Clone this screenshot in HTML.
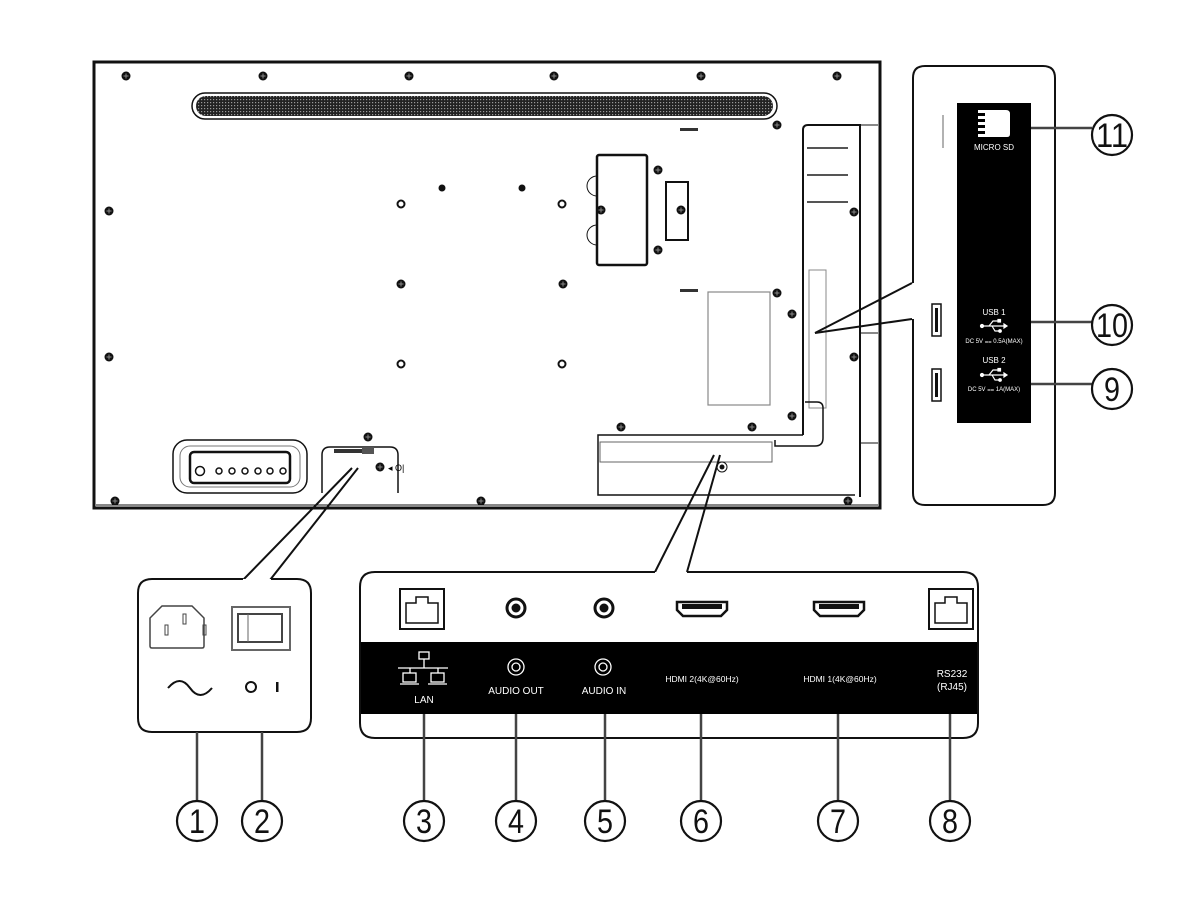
<!DOCTYPE html>
<html><head><meta charset="utf-8"><style>
html,body{margin:0;padding:0;background:#fff}
svg{display:block}
text{font-family:"Liberation Sans",sans-serif}
</style></head><body>
<svg width="1200" height="900" viewBox="0 0 1200 900" xmlns="http://www.w3.org/2000/svg">
<defs>
<g id="scr"><circle r="4.5" fill="#111"/><path d="M-2.5 0H2.5M0 -2.5V2.5" stroke="#888" stroke-width="1"/></g>
<pattern id="grill" width="3" height="3" patternUnits="userSpaceOnUse"><rect width="3" height="3" fill="#222"/><rect width="1.2" height="1.2" fill="#999"/></pattern>
<g id="usb" fill="none" stroke="#fff" stroke-width="1.2"><path d="M-11 0H11M-4 0L0-5H5M-1 0L2 5H6"/><circle cx="-11" cy="0" r="1.5" fill="#fff"/><path d="M11-2L14 0L11 2z" fill="#fff"/><rect x="5" y="-6.5" width="2.5" height="2.5" fill="#fff"/><circle cx="7" cy="5" r="1.3" fill="#fff"/></g>
</defs>
<!-- main body -->
<rect x="94" y="62" width="786" height="446" fill="#fff" stroke="#111" stroke-width="3"/>
<line x1="96" y1="505" x2="878" y2="505" stroke="#111" stroke-width="1"/>
<rect x="192" y="93" width="585" height="26" rx="13" fill="#fff" stroke="#111" stroke-width="1.5"/>
<rect x="196" y="96" width="577" height="20" rx="10" fill="url(#grill)"/>
<!-- screws -->
<use href="#scr" x="126" y="76"/><use href="#scr" x="263" y="76"/><use href="#scr" x="409" y="76"/>
<use href="#scr" x="554" y="76"/><use href="#scr" x="701" y="76"/><use href="#scr" x="837" y="76"/>
<use href="#scr" x="109" y="211"/><use href="#scr" x="109" y="357"/><use href="#scr" x="854" y="212"/><use href="#scr" x="854" y="357"/>
<use href="#scr" x="115" y="501"/><use href="#scr" x="481" y="501"/><use href="#scr" x="848" y="501"/>
<use href="#scr" x="401" y="284"/><use href="#scr" x="563" y="284"/>
<use href="#scr" x="368" y="437"/><use href="#scr" x="621" y="427"/><use href="#scr" x="752" y="427"/>
<use href="#scr" x="792" y="314"/><use href="#scr" x="792" y="416"/><use href="#scr" x="777" y="125"/><use href="#scr" x="777" y="293"/>
<circle cx="442" cy="188" r="3.5" fill="#111"/><circle cx="522" cy="188" r="3.5" fill="#111"/>
<g fill="none" stroke="#111" stroke-width="2"><circle cx="401" cy="204" r="3.5"/><circle cx="562" cy="204" r="3.5"/><circle cx="401" cy="364" r="3.5"/><circle cx="562" cy="364" r="3.5"/></g>
<rect x="680" y="128" width="18" height="3" fill="#333"/><rect x="680" y="289" width="18" height="3" fill="#333"/>
<!-- boxes -->
<rect x="597" y="155" width="50" height="110" rx="2" fill="none" stroke="#111" stroke-width="2.5"/>
<path d="M597 176a10 10 0 0 0 0 20M597 225a10 10 0 0 0 0 20" fill="none" stroke="#111"/>
<use href="#scr" x="601" y="210"/><use href="#scr" x="658" y="170"/><use href="#scr" x="658" y="250"/>
<rect x="666" y="182" width="22" height="58" fill="none" stroke="#111" stroke-width="2"/>
<use href="#scr" x="681" y="210"/>
<rect x="708" y="292" width="62" height="113" fill="none" stroke="#888" stroke-width="1.2"/>
<!-- right channel -->
<path d="M803 435V130q0-5 5-5h52V497" fill="none" stroke="#111" stroke-width="2"/>
<path d="M860 125h18M860 333h18M860 443h18" stroke="#111" fill="none"/>
<g stroke="#555" stroke-width="2"><line x1="807" y1="148" x2="848" y2="148"/><line x1="807" y1="175" x2="848" y2="175"/><line x1="807" y1="202" x2="848" y2="202"/></g>
<rect x="809" y="270" width="17" height="138" fill="none" stroke="#888"/>
<path d="M803 435H598v60h257" fill="none" stroke="#111" stroke-width="1.5"/>
<path d="M805 402h12q6 0 6 6v30q0 8-8 8h-40V440" fill="none" stroke="#111" stroke-width="1.5"/>
<rect x="600" y="442" width="172" height="20" fill="none" stroke="#666"/>
<circle cx="722" cy="467" r="5" fill="none" stroke="#111"/><circle cx="722" cy="467" r="2.5" fill="#111"/>
<!-- keypad -->
<rect x="173" y="440" width="134" height="53" rx="14" fill="none" stroke="#111" stroke-width="1.5"/>
<rect x="180" y="446" width="120" height="41" rx="10" fill="none" stroke="#777"/>
<rect x="190" y="452" width="100" height="31" rx="4" fill="none" stroke="#111" stroke-width="2.5"/>
<circle cx="200" cy="471" r="4.5" fill="none" stroke="#111" stroke-width="1.5"/>
<g fill="none" stroke="#111" stroke-width="1.5"><circle cx="219" cy="471" r="3"/><circle cx="232" cy="471" r="3"/><circle cx="245" cy="471" r="3"/><circle cx="258" cy="471" r="3"/><circle cx="270" cy="471" r="3"/><circle cx="283" cy="471" r="3"/></g>
<!-- power box on body -->
<path d="M322 493V455q0-8 8-8h60q8 0 8 8v38" fill="none" stroke="#111" stroke-width="1.5"/>
<rect x="334" y="449" width="28" height="4" fill="#333"/><rect x="362" y="447" width="12" height="7" fill="#555"/>
<use href="#scr" x="380" y="467"/><text x="388" y="471" font-size="9">◂ O|</text>
<!-- pointer lines -->
<g stroke="#111" stroke-width="2" fill="none">
<line x1="243" y1="580" x2="352" y2="468"/><line x1="270" y1="580" x2="358" y2="468"/>
<line x1="655" y1="572" x2="714" y2="455"/><line x1="687" y1="572" x2="720" y2="455"/>
<line x1="912" y1="283" x2="815" y2="333"/><line x1="912" y1="319" x2="815" y2="333"/>
</g>
<!-- right side panel -->
<path d="M913 283V78q0-12 12-12h118q12 0 12 12v415q0 12-12 12H925q-12 0-12-12V319" fill="#fff" stroke="#111" stroke-width="2"/>
<rect x="957" y="103" width="74" height="320" fill="#000"/>
<line x1="943" y1="115" x2="943" y2="148" stroke="#999" stroke-width="1.5"/>
<path d="M978 110h28q4 0 4 4v20q0 3-3 3h-29z" fill="#fff"/>
<g fill="#000"><rect x="978" y="113" width="7" height="3"/><rect x="978" y="119" width="7" height="3"/><rect x="978" y="125" width="7" height="3"/><rect x="978" y="131" width="7" height="3"/></g>
<text x="994" y="150" font-size="8" fill="#fff" text-anchor="middle">MICRO SD</text>
<text x="994" y="315" font-size="8" fill="#fff" text-anchor="middle">USB 1</text>
<use href="#usb" x="993" y="326"/>
<text x="994" y="343" font-size="6" fill="#fff" text-anchor="middle">DC 5V ⩵ 0.5A(MAX)</text>
<text x="994" y="363" font-size="8" fill="#fff" text-anchor="middle">USB 2</text>
<use href="#usb" x="993" y="375"/>
<text x="994" y="391" font-size="6" fill="#fff" text-anchor="middle">DC 5V ⩵ 1A(MAX)</text>
<rect x="932" y="304" width="9" height="32" fill="none" stroke="#111" stroke-width="1.5"/><rect x="935" y="308" width="3" height="24" fill="#111"/>
<rect x="932" y="369" width="9" height="32" fill="none" stroke="#111" stroke-width="1.5"/><rect x="935" y="373" width="3" height="24" fill="#111"/>
<!-- power panel -->
<path d="M243 579H152q-14 0-14 14v125q0 14 14 14h145q14 0 14-14V593q0-14-14-14h-26" fill="#fff" stroke="#111" stroke-width="2"/>
<path d="M162 606h30l12 12v28q0 2-2 2h-50q-2 0-2-2v-28z" fill="none" stroke="#444" stroke-width="1.5"/>
<rect x="165" y="625" width="3" height="10" fill="none" stroke="#444"/><rect x="183" y="614" width="3" height="10" fill="none" stroke="#444"/><rect x="203" y="625" width="3" height="10" fill="none" stroke="#444"/>
<rect x="232" y="607" width="58" height="43" fill="none" stroke="#666" stroke-width="2"/>
<rect x="238" y="614" width="44" height="28" fill="none" stroke="#444" stroke-width="2"/>
<line x1="248" y1="614" x2="248" y2="642" stroke="#666"/>
<path d="M168 688q12-14 22 0t22 0" fill="none" stroke="#111" stroke-width="2"/>
<circle cx="251" cy="687" r="5" fill="none" stroke="#111" stroke-width="2"/><rect x="276" y="682" width="2.5" height="10" fill="#111"/>
<!-- connector panel -->
<path d="M655 572H375q-15 0-15 15v136q0 15 15 15h588q15 0 15-15V587q0-15-15-15H687" fill="#fff" stroke="#111" stroke-width="2"/>
<rect x="361" y="642" width="616" height="72" fill="#000"/>
<rect x="400" y="589" width="44" height="40" fill="none" stroke="#111" stroke-width="2"/>
<path d="M406 623v-20h10v-6h12v6h10v20z" fill="none" stroke="#111" stroke-width="1.5"/>
<rect x="929" y="589" width="44" height="40" fill="none" stroke="#111" stroke-width="2"/>
<path d="M935 623v-20h10v-6h12v6h10v20z" fill="none" stroke="#111" stroke-width="1.5"/>
<circle cx="516" cy="608" r="9" fill="#fff" stroke="#111" stroke-width="3"/><circle cx="516" cy="608" r="4.5" fill="#111"/>
<circle cx="604" cy="608" r="9" fill="#fff" stroke="#111" stroke-width="3"/><circle cx="604" cy="608" r="4.5" fill="#111"/>
<path d="M677 602h50v8l-6 6h-38l-6-6z" fill="#fff" stroke="#111" stroke-width="2.5"/><rect x="682" y="604" width="40" height="5" fill="#111"/>
<path d="M814 602h50v8l-6 6h-38l-6-6z" fill="#fff" stroke="#111" stroke-width="2.5"/><rect x="819" y="604" width="40" height="5" fill="#111"/>
<!-- LAN icon -->
<g fill="none" stroke="#fff" stroke-width="1.3">
<rect x="419" y="652" width="10" height="7"/><line x1="424" y1="659" x2="424" y2="668"/><line x1="398" y1="668" x2="448" y2="668"/>
<line x1="410" y1="668" x2="410" y2="673"/><line x1="438" y1="668" x2="438" y2="673"/>
<rect x="403" y="673" width="13" height="9"/><rect x="431" y="673" width="13" height="9"/>
<line x1="400" y1="684" x2="419" y2="684"/><line x1="428" y1="684" x2="447" y2="684"/>
<circle cx="516" cy="667" r="8"/><circle cx="516" cy="667" r="4"/>
<circle cx="603" cy="667" r="8"/><circle cx="603" cy="667" r="4"/>
</g>
<g fill="#fff" font-size="10">
<text x="424" y="703" text-anchor="middle">LAN</text>
<text x="516" y="694" text-anchor="middle">AUDIO OUT</text>
<text x="604" y="694" text-anchor="middle">AUDIO IN</text>
<text x="702" y="682" text-anchor="middle" font-size="8.5">HDMI 2(4K@60Hz)</text>
<text x="840" y="682" text-anchor="middle" font-size="8.5">HDMI 1(4K@60Hz)</text>
<text x="952" y="677" text-anchor="middle">RS232</text>
<text x="952" y="690" text-anchor="middle">(RJ45)</text>
</g>
<!-- callout lines -->
<g stroke="#444" stroke-width="2.5">
<line x1="197" y1="732" x2="197" y2="801"/><line x1="262" y1="732" x2="262" y2="801"/>
<line x1="424" y1="714" x2="424" y2="801"/><line x1="516" y1="714" x2="516" y2="801"/><line x1="605" y1="714" x2="605" y2="801"/>
<line x1="701" y1="714" x2="701" y2="801"/><line x1="838" y1="714" x2="838" y2="801"/><line x1="950" y1="714" x2="950" y2="801"/>
<line x1="1031" y1="128" x2="1092" y2="128"/><line x1="1031" y1="322" x2="1092" y2="322"/><line x1="1031" y1="384" x2="1092" y2="384"/>
</g>
<g fill="#fff" stroke="#111" stroke-width="2.2">
<circle cx="197" cy="821" r="20"/><circle cx="262" cy="821" r="20"/><circle cx="424" cy="821" r="20"/><circle cx="516" cy="821" r="20"/>
<circle cx="605" cy="821" r="20"/><circle cx="701" cy="821" r="20"/><circle cx="838" cy="821" r="20"/><circle cx="950" cy="821" r="20"/>
<circle cx="1112" cy="135" r="20"/><circle cx="1112" cy="325" r="20"/><circle cx="1112" cy="389" r="20"/>
</g>
<g font-size="34" text-anchor="middle" fill="#111">
<text x="197" y="833" textLength="16" lengthAdjust="spacingAndGlyphs">1</text><text x="262" y="833" textLength="16" lengthAdjust="spacingAndGlyphs">2</text><text x="424" y="833" textLength="16" lengthAdjust="spacingAndGlyphs">3</text><text x="516" y="833" textLength="16" lengthAdjust="spacingAndGlyphs">4</text>
<text x="605" y="833" textLength="16" lengthAdjust="spacingAndGlyphs">5</text><text x="701" y="833" textLength="16" lengthAdjust="spacingAndGlyphs">6</text><text x="838" y="833" textLength="16" lengthAdjust="spacingAndGlyphs">7</text><text x="950" y="833" textLength="16" lengthAdjust="spacingAndGlyphs">8</text>
<text x="1112" y="147" textLength="32" lengthAdjust="spacingAndGlyphs">11</text><text x="1112" y="337" textLength="32" lengthAdjust="spacingAndGlyphs">10</text><text x="1112" y="401" textLength="16" lengthAdjust="spacingAndGlyphs">9</text>
</g>
</svg>
</body></html>
